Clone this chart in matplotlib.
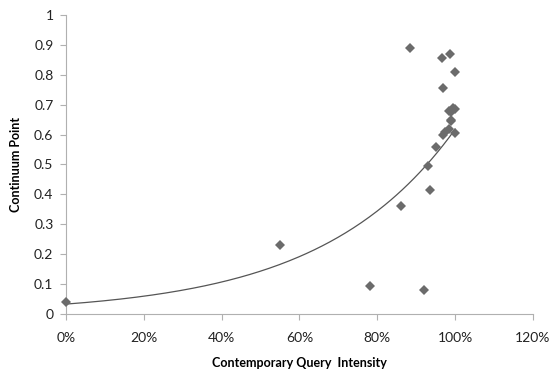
import numpy as np
import matplotlib
matplotlib.use("Agg")
import matplotlib.pyplot as plt
from matplotlib.ticker import FuncFormatter

plt.rcParams['font.family'] = ['Lato', 'DejaVu Sans']

# Query intensity (fraction) and continuum point for each observation
intensity = [0.00, 0.55, 0.78, 0.92, 0.86, 0.93, 0.935, 0.95, 0.97, 0.975,
             0.985, 0.99, 1.00, 0.99, 0.985, 0.995, 1.00, 0.99,
             0.97, 1.00, 0.967, 0.987, 0.883]
continuum = [0.04, 0.23, 0.094, 0.08, 0.36, 0.495, 0.415, 0.56, 0.60, 0.61,
             0.62, 0.645, 0.605, 0.65, 0.68, 0.69, 0.685, 0.675,
             0.755, 0.81, 0.855, 0.87, 0.89]

x_ticks = [0, 0.2, 0.4, 0.6, 0.8, 1.0, 1.2]
y_ticks = [0, 0.1, 0.2, 0.3, 0.4, 0.5, 0.6, 0.7, 0.8, 0.9, 1]

grey = '#6b6b6b'
axis_grey = '#b0b0b0'

fig = plt.figure(figsize=(5.5, 3.73), dpi=100)
ax = fig.add_axes([0.12, 0.158, 0.849, 0.802])

ax.plot(intensity, continuum, linestyle='none', marker='D', markersize=4.8,
        color=grey, markeredgewidth=0, clip_on=False, zorder=3)

# Exponential trendline fitted on log(y)
xs = np.array(intensity)
ys = np.array(continuum)
b, ln_a = np.polyfit(xs, np.log(ys), 1)
xf = np.linspace(0, xs.max(), 200)
ax.plot(xf, np.exp(ln_a) * np.exp(b * xf), color='#555555', linewidth=0.9)

ax.set_xlim(0, 1.2)
ax.set_ylim(0, 1)
ax.set_xticks(x_ticks)
ax.set_yticks(y_ticks)
ax.xaxis.set_major_formatter(FuncFormatter(lambda v, p: f"{v*100:.0f}%"))
ax.yaxis.set_major_formatter(FuncFormatter(lambda v, p: f"{v:g}"))

for side in ('top', 'right'):
    ax.spines[side].set_visible(False)
for side in ('left', 'bottom'):
    ax.spines[side].set_color(axis_grey)
    ax.spines[side].set_linewidth(0.8)
ax.tick_params(axis='both', direction='out', length=4, width=0.8,
               color=axis_grey, labelsize=10, labelcolor='#222222')
ax.tick_params(axis='x', pad=9)
ax.tick_params(axis='y', pad=5)

ax.set_xlabel('Contemporary Query  Intensity', fontsize=9, fontweight='bold',
              labelpad=9)
ax.set_ylabel('Continuum Point', fontsize=9, fontweight='bold', labelpad=9)

fig.savefig('out.png', dpi=100)
